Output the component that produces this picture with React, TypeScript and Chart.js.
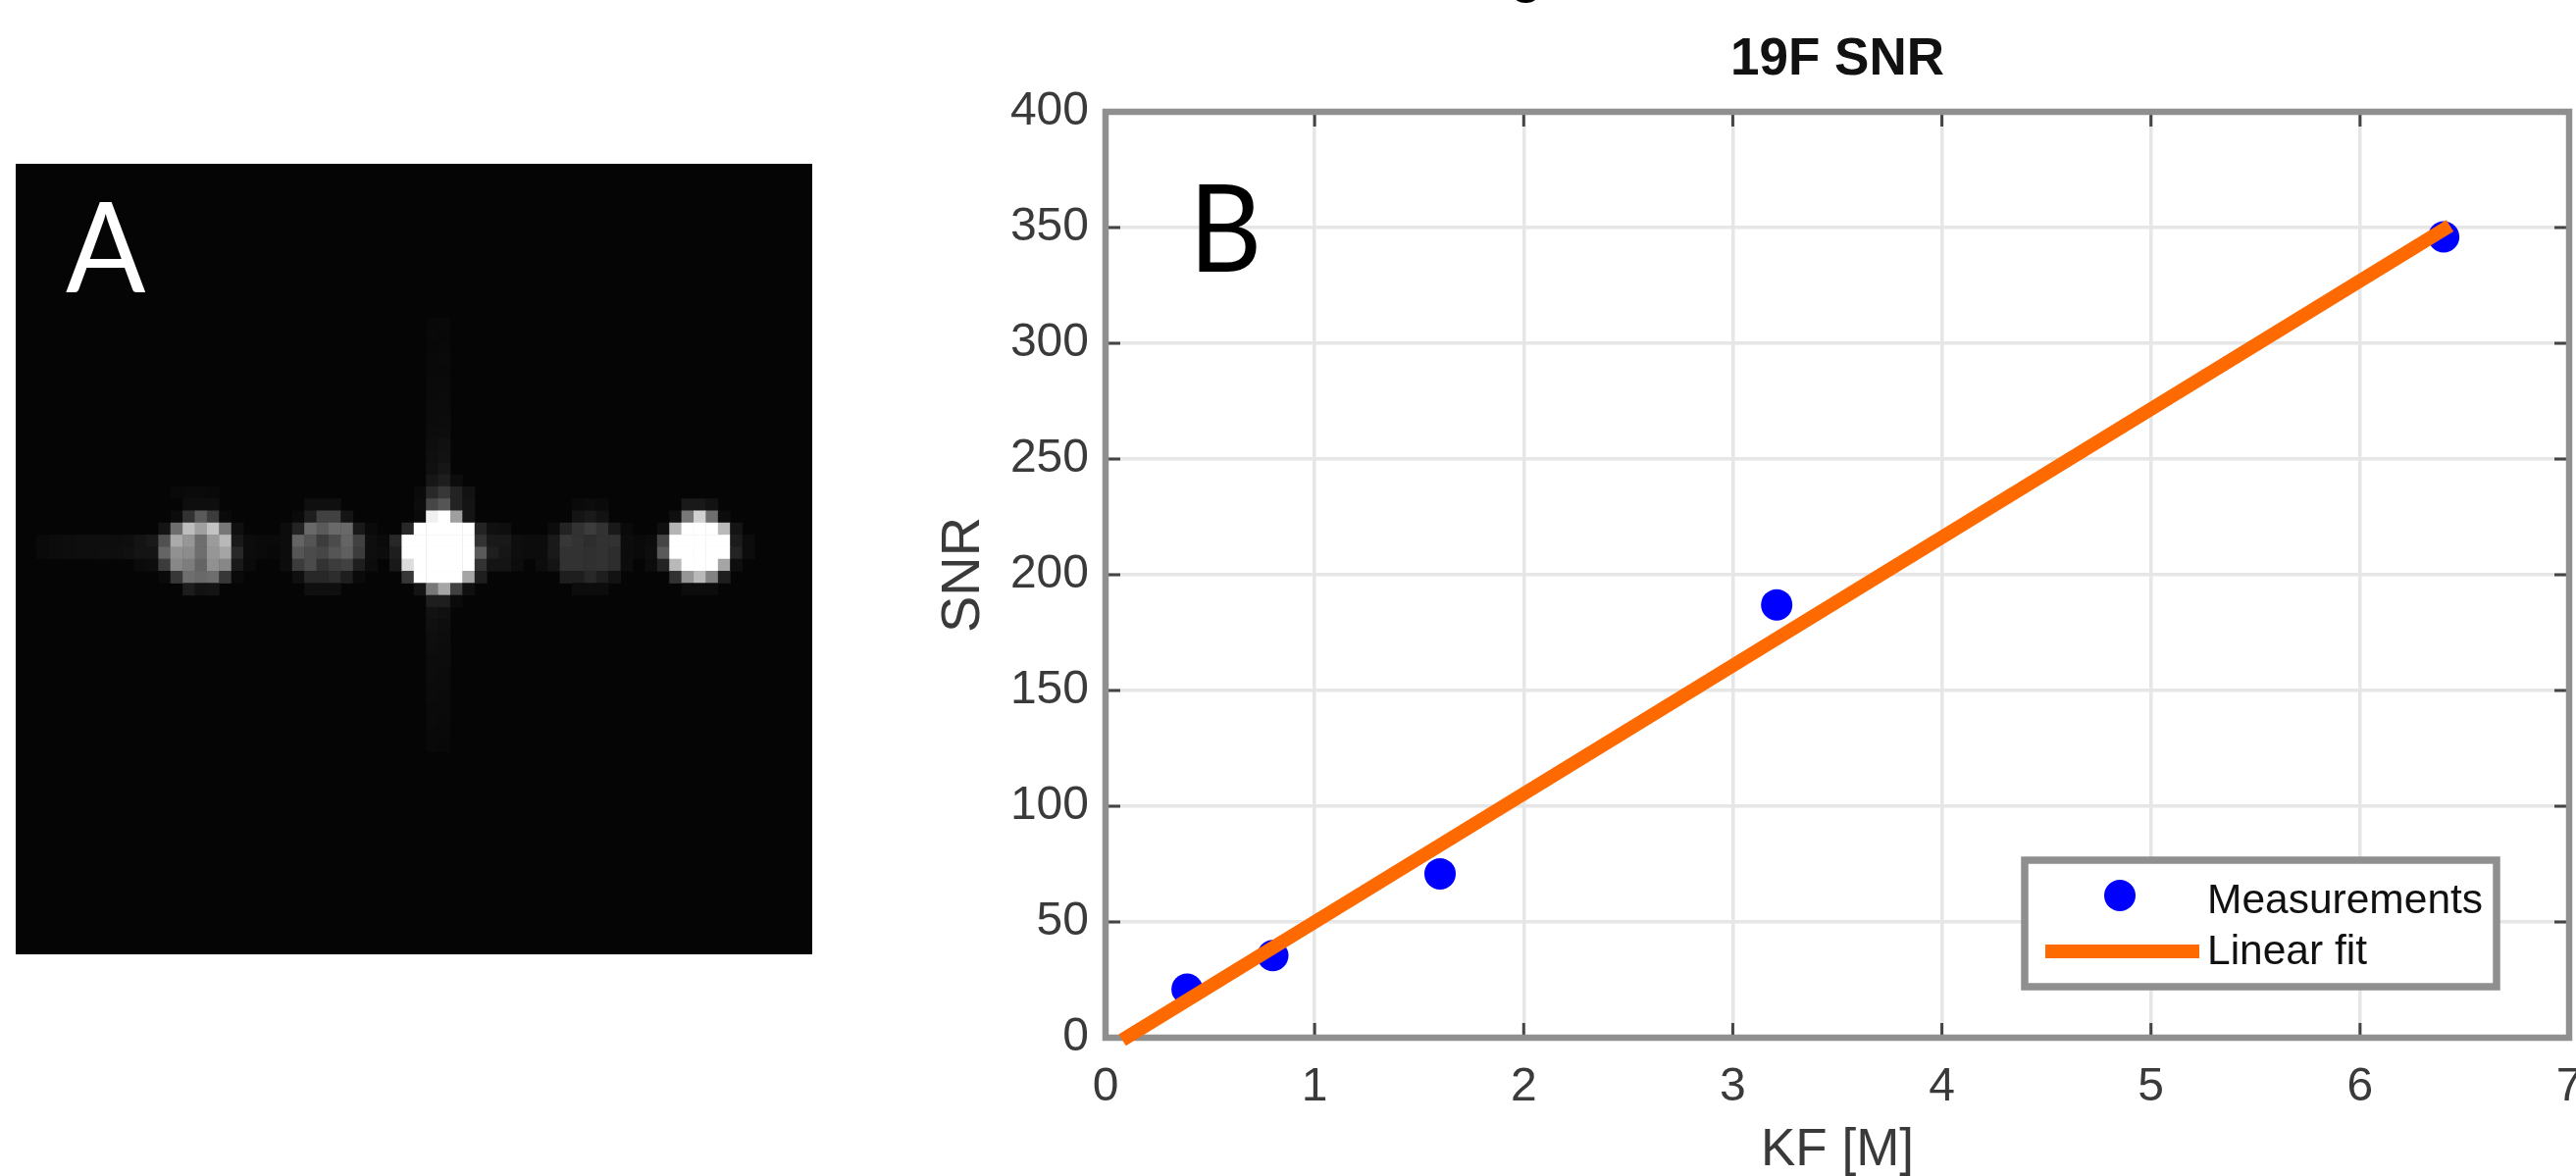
import React, { useEffect, useRef } from "react";
import { Chart, registerables } from "chart.js";

Chart.register(...registerables);

// Panel B
const kfValues = [0.39, 0.8, 1.6, 3.21, 6.4];
const snrValues = [21, 35.5, 70.8, 187, 346];
const fitX = [0.08, 6.43];
const fitY = [-1, 350.8];
const xTicks = [0, 1, 2, 3, 4, 5, 6, 7];
const yTicks = [0, 50, 100, 150, 200, 250, 300, 350, 400];
const seriesNames = ["Measurements", "Linear fit"];
const chartTitle = "19F SNR";
const xTitle = "KF [M]";
const yTitle = "SNR";

// Panel A: 64 x 64 image, [row, first column, grey levels]
const imageRows: [number, number, number[]][] = [
  [12, 33, [8, 9]],
  [13, 33, [9, 8]],
  [14, 33, [8, 9]],
  [15, 33, [9, 10]],
  [16, 33, [9, 9]],
  [17, 33, [10, 10]],
  [18, 33, [10, 11]],
  [19, 33, [11, 11]],
  [20, 33, [11, 12]],
  [21, 33, [12, 13]],
  [22, 33, [14, 16]],
  [23, 33, [15, 18]],
  [24, 33, [16, 22]],
  [25, 33, [22, 30, 12]],
  [26, 12, [9, 10, 10, 9]],
  [26, 32, [10, 40, 55, 35, 18]],
  [27, 13, [14, 14, 14]],
  [27, 23, [15, 15, 15]],
  [27, 32, [12, 70, 85, 35, 20]],
  [27, 45, [10, 12, 10]],
  [27, 54, [25, 25, 18]],
  [28, 12, [12, 50, 90, 60, 10]],
  [28, 22, [10, 30, 65, 65, 20]],
  [28, 32, [10, 240, 255, 160, 20]],
  [28, 45, [20, 25, 18]],
  [28, 53, [15, 120, 210, 110, 12]],
  [29, 11, [20, 110, 190, 160, 195, 120, 15]],
  [29, 21, [12, 35, 105, 90, 105, 105, 25, 10]],
  [29, 31, [40, 255, 255, 255, 255, 255, 35, 16, 14]],
  [29, 43, [12, 35, 50, 60, 50, 25, 10]],
  [29, 52, [15, 180, 255, 255, 255, 185, 20]],
  [30, 1, [10, 12, 13, 14, 14, 14, 13, 14, 20, 25, 80, 170, 150, 110, 155, 185, 25]],
  [30, 18, [12, 10, 10, 12]],
  [30, 22, [100, 85, 60, 75, 100, 65, 14, 10]],
  [30, 30, [40, 255, 255, 255, 255, 255, 255, 50, 25, 25, 14, 12, 12]],
  [30, 43, [25, 55, 50, 45, 50, 50, 12, 10, 12]],
  [30, 52, [70, 255, 255, 255, 255, 255, 28, 12]],
  [31, 1, [10, 12, 13, 14, 14, 15, 14, 16, 20, 20, 100, 145, 140, 110, 150, 165, 40]],
  [31, 18, [12, 10, 8, 12]],
  [31, 22, [85, 75, 70, 85, 95, 60, 14, 12]],
  [31, 30, [30, 255, 255, 255, 255, 255, 255, 90, 30, 22, 14, 12, 12]],
  [31, 43, [25, 50, 50, 48, 50, 45, 12, 10, 14]],
  [31, 52, [90, 255, 255, 255, 255, 255, 35, 12]],
  [32, 9, [10, 12, 60, 135, 125, 100, 145, 135, 25, 10]],
  [32, 21, [12, 60, 75, 50, 60, 65, 30, 12]],
  [32, 30, [25, 220, 255, 255, 255, 255, 255, 50, 20, 20, 12]],
  [32, 42, [12, 20, 50, 50, 48, 50, 45, 12]],
  [32, 51, [12, 35, 185, 255, 255, 255, 165, 14]],
  [33, 11, [10, 55, 110, 105, 110, 55, 10]],
  [33, 22, [15, 40, 40, 45, 30, 10]],
  [33, 31, [55, 255, 255, 255, 255, 165, 30]],
  [33, 44, [30, 30, 40, 30, 18]],
  [33, 53, [50, 150, 185, 130, 30]],
  [34, 13, [28, 18, 20]],
  [34, 23, [15, 15, 15]],
  [34, 32, [20, 120, 165, 65, 15]],
  [34, 45, [12, 12, 12]],
  [34, 54, [12, 12, 12]],
  [35, 33, [30, 30, 10]],
  [36, 33, [18, 16]],
  [37, 33, [16, 14]],
  [38, 33, [14, 13]],
  [39, 33, [13, 12]],
  [40, 33, [12, 12]],
  [41, 33, [12, 11]],
  [42, 33, [11, 11]],
  [43, 33, [11, 10]],
  [44, 33, [10, 10]],
  [45, 33, [10, 9]],
  [46, 33, [9, 9]],
  [47, 33, [9, 8]],
];

const grey = (v: number) => `rgb(${v},${v},${v})`;

const imageCells = imageRows.flatMap(([row, col, values]) =>
  values.map((v, i) => ({ x: col + i + 0.5, y: row + 0.5, v }))
);

const panelA = {
  id: "panelA",
  beforeDatasetsDraw(chart: any) {
    const { ctx, width, height } = chart;
    ctx.save();
    ctx.fillStyle = "#050505";
    ctx.fillRect(0, 0, width, height);
    ctx.restore();
  },
  afterDatasetsDraw(chart: any) {
    const { ctx } = chart;
    ctx.save();
    ctx.fillStyle = "#ffffff";
    ctx.font = "128px Lato";
    ctx.textBaseline = "alphabetic";
    ctx.translate(51, 131);
    ctx.scale(0.94, 1);
    ctx.fillText("A", 0, 0);
    ctx.restore();
  },
};

const LEFT = 1127;
const RIGHT = 2619;
const BOTTOM = 1058;
const TOP = 114;
const CANVAS_W = 2700;

const panelB = {
  id: "panelB",
  beforeDatasetsDraw(chart: any) {
    const { ctx, chartArea: a, scales } = chart;
    ctx.save();
    ctx.strokeStyle = "#444444";
    ctx.lineWidth = 3;
    ctx.beginPath();
    scales.x.ticks.forEach((_: any, i: number) => {
      const p = scales.x.getPixelForTick(i);
      ctx.moveTo(p, a.bottom);
      ctx.lineTo(p, a.bottom - 15);
      ctx.moveTo(p, a.top);
      ctx.lineTo(p, a.top + 15);
    });
    scales.y.ticks.forEach((_: any, i: number) => {
      const p = scales.y.getPixelForTick(i);
      ctx.moveTo(a.left, p);
      ctx.lineTo(a.left + 15, p);
      ctx.moveTo(a.right, p);
      ctx.lineTo(a.right - 15, p);
    });
    ctx.stroke();
    ctx.strokeStyle = "#8f8f8f";
    ctx.lineWidth = 6.5;
    ctx.strokeRect(a.left, a.top, a.right - a.left, a.bottom - a.top);
    ctx.restore();
  },
  afterDatasetsDraw(chart: any) {
    const { ctx } = chart;
    ctx.save();
    // clipped line of text above the plot
    ctx.fillStyle = "#000000";
    ctx.font = "bold 53px 'Liberation Sans'";
    ctx.textAlign = "center";
    ctx.textBaseline = "alphabetic";
    ctx.fillText("g", 1556, -8);
    // panel letter
    ctx.textAlign = "left";
    ctx.save();
    ctx.translate(1212, 277);
    ctx.scale(0.92, 1);
    ctx.font = "125px Lato";
    ctx.fillText("B", 0, 0);
    ctx.restore();
    // legend
    ctx.fillStyle = "#ffffff";
    ctx.fillRect(2061, 874, 487, 135);
    ctx.strokeStyle = "#8f8f8f";
    ctx.lineWidth = 7.5;
    ctx.strokeRect(2064, 877, 481, 129);
    ctx.fillStyle = "#0000ff";
    ctx.beginPath();
    ctx.arc(2161, 913, 16, 0, Math.PI * 2);
    ctx.fill();
    ctx.strokeStyle = "#ff6a00";
    ctx.lineWidth = 14;
    ctx.beginPath();
    ctx.moveTo(2085, 970);
    ctx.lineTo(2242, 970);
    ctx.stroke();
    ctx.fillStyle = "#111111";
    ctx.font = "42.5px 'Liberation Sans'";
    ctx.fillText(seriesNames[0], 2250, 931);
    ctx.fillText(seriesNames[1], 2250, 983);
    ctx.restore();
  },
};

export default function App() {
  const refA = useRef<HTMLCanvasElement>(null);
  const refB = useRef<HTMLCanvasElement>(null);

  useEffect(() => {
    const chartA = new Chart(refA.current!, {
      type: "scatter",
      data: {
        datasets: [
          {
            data: imageCells.map((c) => ({ x: c.x, y: c.y })),
            backgroundColor: imageCells.map((c) => grey(c.v)),
            pointStyle: "rect",
            pointRadius: 9.1,
            pointHoverRadius: 9.1,
            borderWidth: 0,
          },
        ],
      },
      options: {
        animation: false,
        responsive: false,
        devicePixelRatio: 1,
        layout: { padding: 0 },
        plugins: { legend: { display: false }, tooltip: { enabled: false } },
        scales: {
          x: { type: "linear", min: 0, max: 64, display: false },
          y: { type: "linear", min: 0, max: 64, reverse: true, display: false },
        },
      },
      plugins: [panelA],
    } as any);

    const fixY = (s: any) => {
      s.width = LEFT;
      s.paddingTop = 0;
      s.paddingBottom = 0;
    };
    const fixX = (s: any) => {
      s.height = 1199 - BOTTOM;
      s.paddingLeft = 0;
      s.paddingRight = 0;
    };

    const chartB = new Chart(refB.current!, {
      type: "scatter",
      data: {
        datasets: [
          {
            label: seriesNames[0],
            data: kfValues.map((x, i) => ({ x, y: snrValues[i] })),
            backgroundColor: "#0000ff",
            pointRadius: 16,
            borderWidth: 0,
            clip: false,
            order: 2,
          },
          {
            label: seriesNames[1],
            data: fitX.map((x, i) => ({ x, y: fitY[i] })),
            showLine: true,
            borderColor: "#ff6a00",
            borderWidth: 14,
            borderCapStyle: "butt",
            pointRadius: 0,
            clip: false,
            order: 1,
          },
        ],
      },
      options: {
        animation: false,
        responsive: false,
        devicePixelRatio: 1,
        layout: { padding: { left: 0, top: 0, right: CANVAS_W - RIGHT, bottom: 0 } },
        plugins: {
          legend: { display: false },
          tooltip: { enabled: false },
          title: {
            display: true,
            text: chartTitle,
            fullSize: false,
            color: "#111111",
            font: { family: "'Liberation Sans'", size: 53, weight: "bold", lineHeight: 1 },
            padding: { top: 34.5, bottom: TOP - 34.5 - 53 },
          },
        },
        scales: {
          x: {
            type: "linear",
            min: xTicks[0],
            max: xTicks[xTicks.length - 1],
            afterFit: fixX,
            afterBuildTicks: (s: any) => {
              s.ticks = xTicks.map((value) => ({ value }));
            },
            grid: { color: "#e6e6e6", lineWidth: 3.5, drawTicks: false },
            border: { display: false },
            ticks: {
              color: "#3a3a3a",
              padding: 22,
              maxRotation: 0,
              autoSkip: false,
              font: { family: "'Liberation Sans'", size: 48 },
            },
            title: {
              display: true,
              text: xTitle,
              color: "#3a3a3a",
              padding: 0,
              font: { family: "'Liberation Sans'", size: 53, lineHeight: 0.95 },
            },
          },
          y: {
            type: "linear",
            min: yTicks[0],
            max: yTicks[yTicks.length - 1],
            afterFit: fixY,
            afterBuildTicks: (s: any) => {
              s.ticks = yTicks.map((value) => ({ value }));
            },
            grid: { color: "#e6e6e6", lineWidth: 3.5, drawTicks: false },
            border: { display: false },
            ticks: {
              color: "#3a3a3a",
              padding: 17,
              autoSkip: false,
              font: { family: "'Liberation Sans'", size: 48 },
            },
            title: {
              display: true,
              text: yTitle,
              color: "#3a3a3a",
              padding: { top: 955, bottom: 0 },
              font: { family: "'Liberation Sans'", size: 56, lineHeight: 1 },
            },
          },
        },
      },
      plugins: [panelB],
    } as any);

    return () => {
      chartA.destroy();
      chartB.destroy();
    };
  }, []);

  return (
    <div style={{ position: "absolute", left: 0, top: 0, width: 2626, height: 1199, overflow: "hidden", background: "#ffffff" }}>
      <canvas ref={refB} width={CANVAS_W} height={1199} style={{ position: "absolute", left: 0, top: 0, width: CANVAS_W, height: 1199, filter: "blur(0.6px)" }} />
      <canvas ref={refA} width={812} height={806} style={{ position: "absolute", left: 16, top: 167, width: 812, height: 806, filter: "blur(0.6px)" }} />
    </div>
  );
}
